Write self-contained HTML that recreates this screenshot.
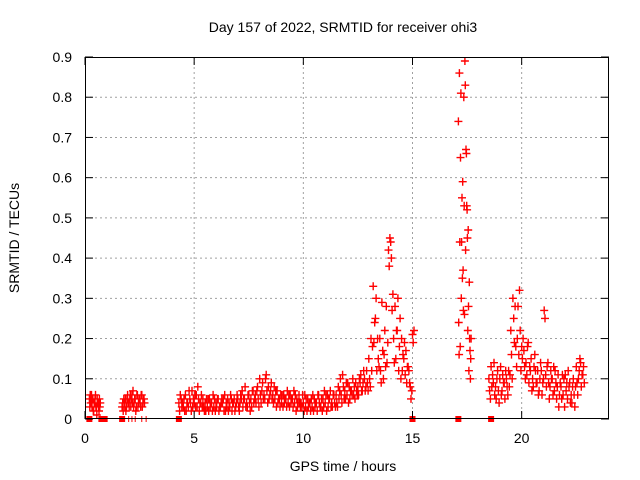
<!DOCTYPE html>
<html><head><meta charset="utf-8"><style>
body{margin:0;background:#fff}
svg{display:block;font-family:"Liberation Sans",sans-serif}
</style></head><body>
<svg id="chart" width="640" height="480" viewBox="0 0 640 480" xmlns="http://www.w3.org/2000/svg">
<rect width="640" height="480" fill="#fff"/>
<text x="343" y="32" font-size="14" text-anchor="middle">Day 157 of 2022, SRMTID for receiver ohi3</text>
<text x="343" y="471" font-size="14" text-anchor="middle">GPS time / hours</text>
<text transform="translate(19,238) rotate(-90)" font-size="14" text-anchor="middle">SRMTID / TECUs</text>
<g id="grid"></g><g id="marks"></g><g id="axes"></g>
</svg>
<script>
const xTicks=[0,5,10,15,20];
const yTicks=[0,0.1,0.2,0.3,0.4,0.5,0.6,0.7,0.8,0.9];
const yTickLabels=["0","0.1","0.2","0.3","0.4","0.5","0.6","0.7","0.8","0.9"];
const segStarts=[0.2,1.7,4.3,17.1,18.5];
const segSteps=[0.04,0.05,0.1,0.05,0.1];
const seg1A=[0.05,0.06,0.04,0.03,0.05,0.02,0.04,0.06,0.03,0.05,0.04,0.02,0.03];
const seg1B=[0.03,0.04,0.06,0.05,0.02,0.04,0.05,0.03,0.01,0.04,0.03,0.05,0.04];
const seg2A=[0.03,0.02,0.04,0.05,0.03,0.06,0.04,0.05,0.03,0.06,0.07,0.04,0.05,0.03,0.06,0.04,0.05,0.03,0.06,0.04,0.05];
const seg2B=[0.04,0.05,0.03,0.02,0.05,0.04,0.03,0.06,0.05,0.04,0.03,0.05,0.02,0.06,0.03,0.05,0.04,0.06,0.03,0.05,0.04];
const seg3A=[0.04,0.05,0.03,0.06,0.04,0.05,0.07,0.04,0.06,0.05,0.04,0.05,
0.04,0.03,0.05,0.04,0.03,0.04,0.05,0.03,0.04,0.06,0.03,0.04,0.05,0.04,0.03,
0.05,0.04,0.07,0.05,0.04,0.06,0.05,0.07,
0.06,0.08,0.10,0.07,0.06,0.11,0.08,0.07,
0.06,0.05,0.07,0.05,0.04,0.06,0.05,0.04,0.06,0.05,0.04,0.05,0.06,0.04,
0.04,0.03,0.05,0.04,0.03,0.05,0.04,0.06,0.03,0.05,0.04,0.06,0.05,0.04,0.06,
0.06,0.08,0.10,0.11,0.07,0.06,0.08,0.07,0.06,0.09,
0.08,0.09,0.07,0.10,0.12,
0.15,0.20,0.33,0.25,0.20,
0.20,0.29,0.16,0.28,0.42,
0.44,0.31,0.28,0.22,0.18,
0.20,0.15,0.17,0.13,0.08,0.21];
const seg3B=[0.02,0.03,0.05,0.02,0.03,0.04,0.03,0.06,0.03,0.02,0.06,0.03,
0.02,0.05,0.03,0.02,0.05,0.03,0.02,0.04,0.05,0.02,0.05,0.03,0.02,0.05,0.04,
0.03,0.06,0.03,0.08,0.03,0.04,0.03,0.04,
0.04,0.05,0.06,0.09,0.05,0.07,0.05,0.09,
0.04,0.07,0.04,0.03,0.06,0.04,0.03,0.06,0.04,0.03,0.06,0.03,0.04,0.03,
0.02,0.05,0.03,0.02,0.06,0.03,0.02,0.04,0.05,0.03,0.06,0.03,0.07,0.03,0.04,
0.04,0.05,0.06,0.08,0.05,0.09,0.05,0.06,0.08,0.07,
0.06,0.11,0.09,0.07,0.09,
0.10,0.12,0.19,0.30,0.15,
0.12,0.17,0.22,0.14,0.38,
0.40,0.20,0.15,0.30,0.25,
0.12,0.19,0.09,0.12,0.05,0.19];
const seg3C=[0.06,0.04,0.02,0.04,0.07,0.02,0.05,0.03,0.08,0.04,0.03,0.02,
0.05,0.02,0.04,0.06,0.02,0.05,0.03,0.05,0.02,0.04,0.02,0.06,0.04,0.02,0.06,
0.02,0.05,0.05,0.03,0.06,0.02,0.07,0.05,
0.07,0.03,0.04,0.05,0.10,0.04,0.06,0.05,
0.08,0.03,0.05,0.06,0.03,0.05,0.07,0.03,0.05,0.07,0.02,0.04,0.03,0.06,
0.06,0.02,0.04,0.05,0.02,0.04,0.06,0.03,0.02,0.07,0.02,0.05,0.03,0.06,0.03,
0.03,0.07,0.04,0.05,0.09,0.04,0.07,0.10,0.05,0.06,
0.10,0.07,0.12,0.08,0.07,
0.08,0.18,0.24,0.12,0.13,
0.09,0.10,0.13,0.19,0.45,
0.27,0.14,0.22,0.12,0.10,
0.16,0.11,0.13,0.09,0.07,0.22];
const seg4A=[0.74,0.86,0.65,0.44,0.59,0.80,0.89,0.67,0.52,0.47,0.34,0.10];
const seg4B=[0.24,0.44,0.81,0.55,0.37,0.53,0.83,0.66,0.45,0.28,0.20,0.15];
const seg4C=[0.16,0.18,0.30,0.35,0.27,0.26,0.42,0.53,0.22,0.12,0.17,0.20];
const seg5A=[0.10,0.13,0.09,0.08,0.12,0.10,0.07,0.09,0.10,0.12,0.22,0.30,0.28,0.20,0.32,0.18,0.17,0.14,0.19,0.12,0.10,0.16,0.09,0.07,0.12,0.10,0.11,0.14,0.08,0.10,0.07,0.05,0.03,0.08,0.06,0.11,0.05,0.09,0.04,0.06,0.13,0.10,0.14,0.11];
const seg5B=[0.07,0.08,0.14,0.05,0.07,0.13,0.11,0.05,0.08,0.08,0.16,0.25,0.18,0.28,0.22,0.15,0.13,0.11,0.09,0.15,0.08,0.12,0.12,0.10,0.06,0.27,0.08,0.09,0.12,0.06,0.12,0.08,0.06,0.05,0.10,0.07,0.12,0.04,0.08,0.03,0.09,0.12,0.08,0.13];
const seg5C=[0.05,0.11,0.06,0.10,0.04,0.06,0.09,0.12,0.06,0.11,0.10,0.19,0.13,0.16,0.12,0.20,0.10,0.18,0.13,0.07,0.13,0.09,0.06,0.14,0.09,0.25,0.13,0.05,0.10,0.13,0.09,0.11,0.09,0.11,0.03,0.09,0.08,0.06,0.10,0.08,0.06,0.15,0.11,0.09];
const gapMarkers=[0.2,0.75,0.9,1.7,4.3,15.0,17.1,18.6];
const gapLines=[2.0,2.15,2.3,2.6,2.8];
const segValues=[[seg1A,seg1B],[seg2A,seg2B],[seg3A,seg3B,seg3C],[seg4A,seg4B,seg4C],[seg5A,seg5B,seg5C]];

const L=85,R=609,T=57,B=419,XMAX=24,YMAX=0.9;
const X=v=>L+(R-L)*v/XMAX;
const Y=v=>B-(B-T)*v/YMAX;
const NS="http://www.w3.org/2000/svg";
function mk(tag,parent,attrs){const e=document.createElementNS(NS,tag);for(const k in attrs)e.setAttribute(k,attrs[k]);parent.appendChild(e);return e;}
const grid=document.getElementById('grid'),marks=document.getElementById('marks'),axes=document.getElementById('axes');
yTicks.forEach((v,i)=>{
  if(v>0&&v<YMAX){const g=mk('line',grid,{x1:L,x2:R,y1:Y(v),y2:Y(v),stroke:'#a0a0a0','stroke-dasharray':'2,3'});
  
  }
  mk('line',axes,{x1:L,x2:L+8,y1:Y(v),y2:Y(v),stroke:'#000'});
  mk('line',axes,{x1:R,x2:R-8,y1:Y(v),y2:Y(v),stroke:'#000'});
  const t=mk('text',axes,{x:L-13,y:Y(v)+5,'font-size':14,'text-anchor':'end'});
  t.textContent=yTickLabels[i];
  
  
});
xTicks.forEach(v=>{
  if(v>0){const g=mk('line',grid,{x1:X(v),x2:X(v),y1:T,y2:B,stroke:'#a0a0a0','stroke-dasharray':'2,3'});
  
  }
  mk('line',axes,{x1:X(v),x2:X(v),y1:B,y2:B-8,stroke:'#000'});
  mk('line',axes,{x1:X(v),x2:X(v),y1:T,y2:T+8,stroke:'#000'});
  const t=mk('text',axes,{x:X(v),y:B+24,'font-size':14,'text-anchor':'middle'});
  t.textContent=String(v);
  
  
});
const frame=mk('rect',axes,{x:L+0.5,y:T+0.5,width:R-L-1,height:B-T-1,fill:'none',stroke:'#000'});


let d='';
segValues.forEach((arrs,s)=>{
  arrs.forEach((arr,k)=>{
    const off=segSteps[s]*k/arrs.length;
    arr.forEach((v,i)=>{
      const x=X(segStarts[s]+i*segSteps[s]+off),y=Y(v);
      d+=`M${(x-4).toFixed(1)} ${y.toFixed(1)}h8M${x.toFixed(1)} ${(y-4).toFixed(1)}v8`;
    });
  });
});
const p=mk('path',marks,{d:d,stroke:'#ff0000','stroke-width':1.4,fill:'none'});


gapMarkers.forEach(t=>{
  const r=mk('rect',marks,{x:X(t)-3,y:B-3,width:6,height:6,fill:'#ff0000'});
  
  
});
gapLines.forEach(t=>{
  const l=mk('line',marks,{x1:X(t),x2:X(t),y1:B-3,y2:B+3,stroke:'#ff0000'});
  
  
});
</script>
</body></html>
